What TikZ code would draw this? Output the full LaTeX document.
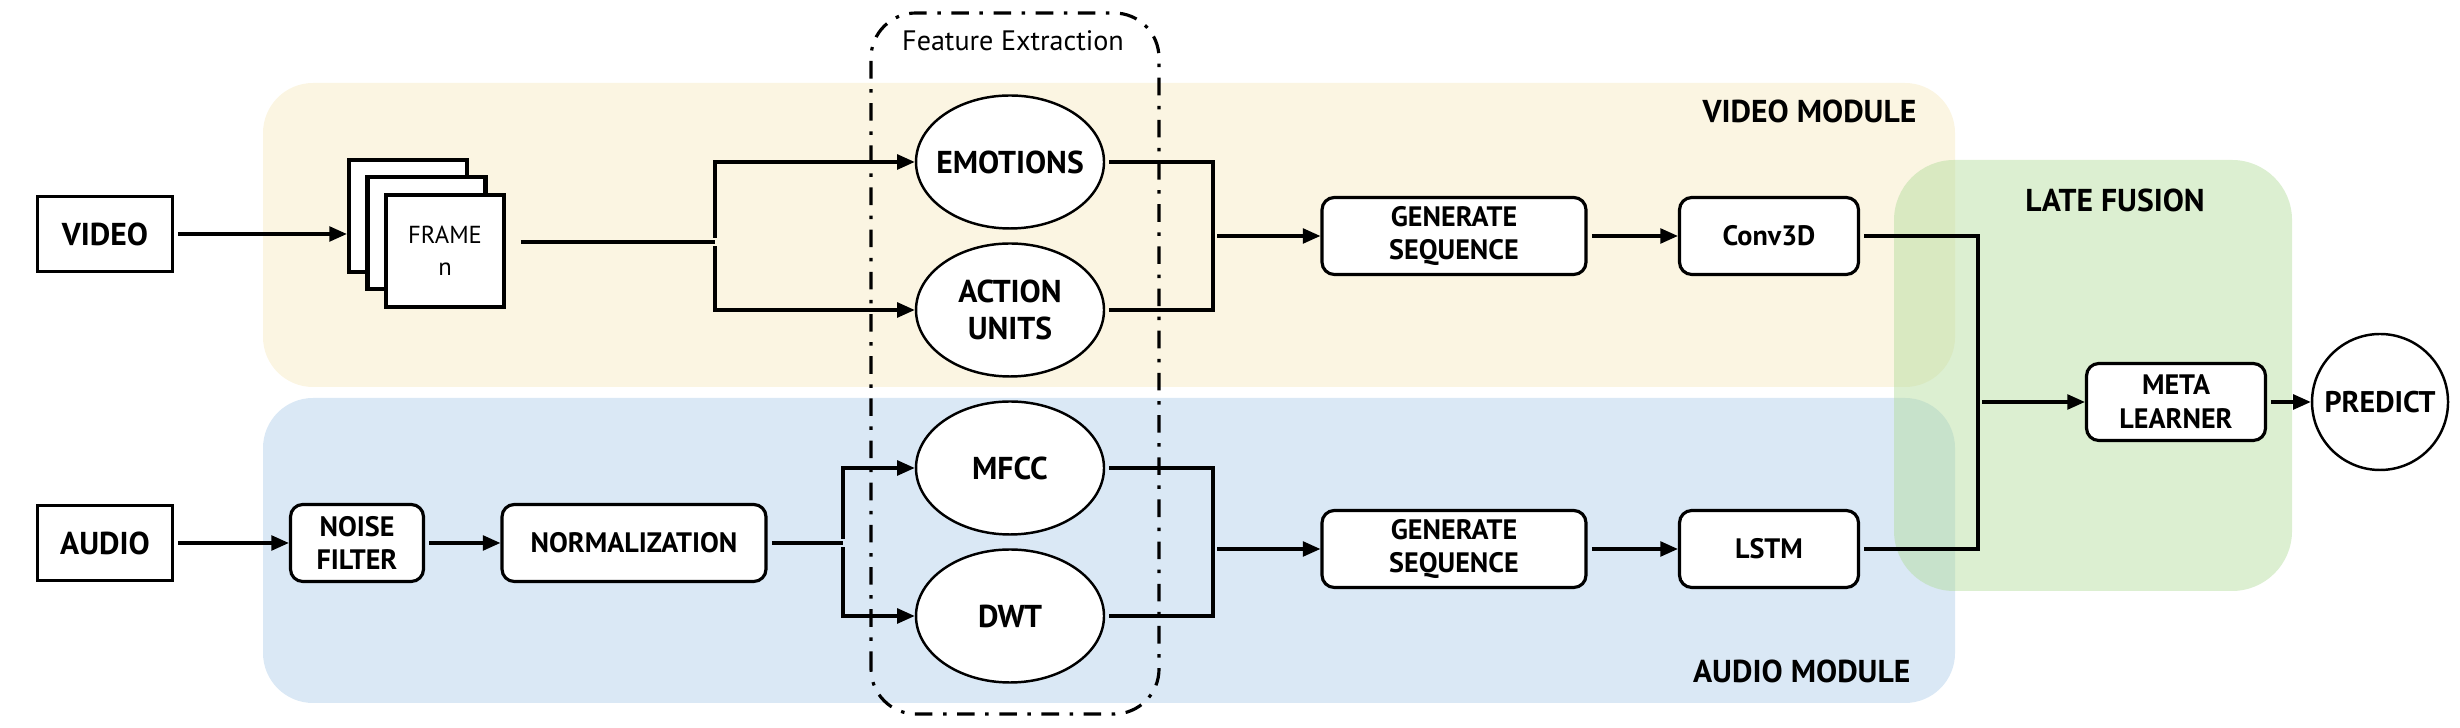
\documentclass[tikz,border=0pt]{standalone}
\usepackage{fontspec}
\setmainfont{PT Sans}
\usetikzlibrary{arrows.meta,positioning,shapes.geometric,calc}
\definecolor{vidfill}{RGB}{251,245,226}
\definecolor{audfill}{RGB}{218,232,245}
\definecolor{fusfill}{RGB}{177,219,153}
\tikzset{
  srcbox/.style={draw, line width=0.6pt, minimum width=1.35cm, minimum height=0.75cm,
              font=\bfseries\fontsize{9}{10.4}\selectfont},
  stepbox/.style={draw, line width=0.9pt, rounded corners=3.5pt, fill=white, align=center,
              minimum height=0.77cm, inner sep=2pt, font=\bfseries\fontsize{8}{9.6}\selectfont},
  featnode/.style={ellipse, draw, line width=0.7pt, fill=white, align=center, inner xsep=-0.3cm,
              inner ysep=0pt, minimum width=1.88cm, minimum height=1.33cm,
              font=\bfseries\fontsize{9}{10.4}\selectfont},
  framebox/.style={draw, line width=1.2pt, fill=white, align=center, minimum width=1.18cm,
              minimum height=1.12cm, font=\fontsize{7}{9}\selectfont},
  region/.style={rounded corners=0.5cm},
  tag/.style={inner sep=0pt, font=\bfseries\fontsize{9}{10.4}\selectfont},
  wire/.style={line width=0.9pt, shorten <=1.2pt},
  flow/.style={wire, -{Triangle[length=5pt,width=4.2pt]}},
}

\begin{document}
\begin{tikzpicture}
    \useasboundingbox (0,0) rectangle (24.6,7.28);
    % module backgrounds
    \fill[vidfill,region] (2.63,3.41) rectangle (19.55,6.45);
    \fill[audfill,region] (2.63,0.25) rectangle (19.55,3.30);
    \fill[fusfill,opacity=0.45,rounded corners=0.6cm] (18.94,1.37) rectangle (22.92,5.68);
    \node[tag,anchor=east] (vidtag) at (19.17,6.17) {VIDEO MODULE};
    \node[tag,anchor=east] (audtag) at (19.11,0.57) {AUDIO MODULE};
    \node[tag] (fustag) at (21.15,5.28) {LATE FUSION};
    % feature extraction frame
    \draw[line width=0.9pt,dash pattern=on 5pt off 3pt on 1pt off 3pt,rounded corners=0.45cm]
      (8.71,0.14) rectangle (11.59,7.15);
    \node[font=\fontsize{8}{9}\selectfont] (fxtag) at (10.13,6.87) {Feature Extraction};

    % video branch
    \node[srcbox] (video) at (1.05,4.94) {VIDEO};
    \foreach \i/\n in {2/fback,1/fmid}
      \node[framebox] (\n) at ($(4.45,4.77)+(-0.185*\i,0.176*\i)$) {};
    \node[framebox] (front) at (4.45,4.77) {FRAME\\n};
    \draw[flow] (video) -- (video -| fback.west);
    \coordinate (vsplit) at (7.15,4.86);
    \coordinate (fout) at ([xshift=3pt]front.east);
    \draw[wire] (fout |- vsplit) -- (vsplit);
    \node[featnode] (emo) at (10.10,5.66) {EMOTIONS};
    \node[featnode] (au) at (10.10,4.18) {ACTION\\UNITS};
    \draw[flow] (vsplit) |- (emo.west);
    \draw[flow] (vsplit) |- (au.west);
    \coordinate (vjoin) at (12.13,4.92);
    \draw[wire] (emo.east) -| (vjoin);
    \draw[wire] (au.east) -| (vjoin);
    \node[stepbox,minimum width=2.64cm] (vseq) at (14.54,4.92) {GENERATE\\SEQUENCE};
    \node[stepbox,minimum width=1.79cm] (conv) at (17.69,4.92) {Conv3D};
    \draw[flow] (vjoin) -- (vseq);
    \draw[flow] (vseq) -- (conv);

    % audio branch
    \node[srcbox] (audio) at (1.05,1.85) {AUDIO};
    \node[stepbox,minimum width=1.33cm] (noise) at (3.57,1.85) {NOISE\\FILTER};
    \node[stepbox,minimum width=2.64cm] (norm) at (6.34,1.85) {NORMALIZATION};
    \draw[flow] (audio) -- (noise);
    \draw[flow] (noise) -- (norm);
    \coordinate (asplit) at (8.43,1.85);
    \draw[wire] (norm) -- (asplit);
    \node[featnode] (mfcc) at (10.10,2.60) {MFCC};
    \node[featnode] (dwt) at (10.10,1.12) {DWT};
    \draw[flow] (asplit) |- (mfcc.west);
    \draw[flow] (asplit) |- (dwt.west);
    \coordinate (ajoin) at (12.13,1.79);
    \draw[wire] (mfcc.east) -| (ajoin);
    \draw[wire] (dwt.east) -| (ajoin);
    \node[stepbox,minimum width=2.64cm] (aseq) at (14.54,1.79) {GENERATE\\SEQUENCE};
    \node[stepbox,minimum width=1.79cm] (lstm) at (17.69,1.79) {LSTM};
    \draw[flow] (ajoin) -- (aseq);
    \draw[flow] (aseq) -- (lstm);

    % late fusion
    \node[stepbox,minimum width=1.79cm] (meta) at (21.76,3.26) {META\\LEARNER};
    \node[circle,draw,line width=0.7pt,fill=white,minimum size=1.36cm,inner sep=0pt,
          font=\bfseries\fontsize{8.5}{10}\selectfont] (predict) at (23.80,3.26) {PREDICT};
    \coordinate (fjoin) at (19.78,3.26);
    \draw[wire] (conv) -| (fjoin);
    \draw[wire] (lstm) -| (fjoin);
    \draw[flow] (fjoin) -- (meta);
    \draw[flow] (meta) -- (predict);
\end{tikzpicture}
\end{document}
